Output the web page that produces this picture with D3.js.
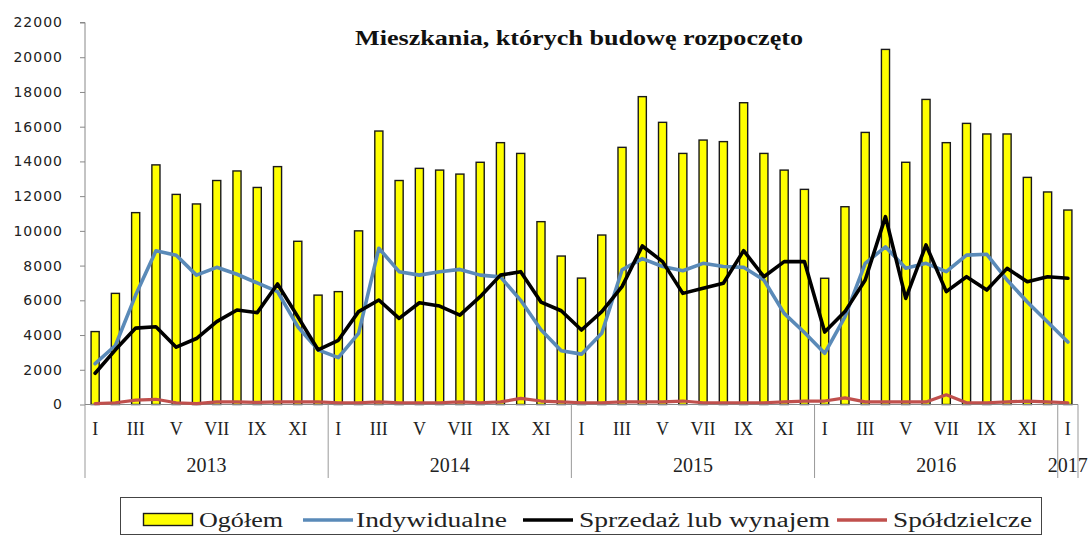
<!DOCTYPE html>
<html>
<head>
<meta charset="utf-8">
<script src="https://cdn.jsdelivr.net/npm/d3@7"></script>
<style>
  html, body { margin: 0; padding: 0; background: #fff; }
  svg { display: block; }
</style>
</head>
<body>
<svg id="chart" width="1091" height="537"></svg>
<script>
// ---- data ----
const romanMonths = ["I","II","III","IV","V","VI","VII","VIII","IX","X","XI","XII"];
const yearLabels = ["2013","2014","2015","2016","2017"];
const monthsPerYear = [12, 12, 12, 12, 1];
const yTicks = [0,2000,4000,6000,8000,10000,12000,14000,16000,18000,20000,22000];

const ogolem = [
  4200, 6400, 11050, 13800, 12100, 11550, 12900, 13450, 12500, 13700, 9400, 6300,
  6500, 10000, 15750, 12900, 13600, 13500, 13270, 13950, 15080, 14460, 10530, 8550,
  7280, 9760, 14810, 17730, 16250, 14460, 15230, 15140, 17380, 14460, 13500, 12390,
  7270, 11390, 15670, 20450, 13950, 17570, 15080, 16190, 15580, 15580, 13080, 12240,
  11200
];
const indywidualne = [
  2350, 3400, 6300, 8850, 8600, 7450, 7900, 7500, 7000, 6500, 4480, 3150,
  2700, 4100, 9000, 7650, 7450, 7650, 7780, 7450, 7350, 6000, 4300, 3100,
  2900, 4100, 7750, 8400, 7950, 7700, 8130, 7950, 7900, 7170, 5250, 4150,
  2950, 5050, 8130, 9080, 7850, 8130, 7650, 8600, 8650, 7170, 5900, 4750,
  3600
];
const sprzedaz = [
  1800, 3150, 4400, 4480, 3300, 3800, 4770, 5440, 5290, 6940, 5060, 3150,
  3700, 5350, 6020, 4960, 5860, 5670, 5150, 6210, 7450, 7650, 5900, 5400,
  4290, 5350, 6790, 9130, 8230, 6400, 6690, 6980, 8860, 7360, 8230, 8230,
  4170, 5350, 7170, 10820, 6110, 9190, 6500, 7360, 6590, 7840, 7070, 7360,
  7270
];
const spoldzielcze = [
  50, 100, 250, 300, 100, 50, 150, 150, 120, 150, 150, 150,
  100, 100, 150, 100, 100, 100, 150, 100, 150, 350, 200, 150,
  100, 100, 150, 150, 150, 200, 100, 100, 100, 100, 150, 200,
  200, 380, 150, 150, 150, 150, 560, 100, 100, 150, 200, 150,
  100
];
const seriesNames = ["Ogółem", "Indywidualne", "Sprzedaż lub wynajem", "Spółdzielcze"];
const titleText = "Mieszkania, których budowę rozpoczęto";

// ---- layout ----
const svg = d3.select("#chart");
const plotLeft = 85, plotRight = 1078, plotTop = 22.5, plotBottom = 404.5;
const n = ogolem.length;
const idx = d3.range(n);

// month label for each category
const catMonth = [];
monthsPerYear.forEach(m => { for (let k = 0; k < m; k++) catMonth.push(k); });

const x = d3.scaleBand().domain(idx).range([plotLeft, plotRight]).paddingInner(0.6).paddingOuter(0.3);
const y = d3.scaleLinear().domain([0, 22000]).range([plotBottom, plotTop]);
const cx = i => x(i) + x.bandwidth() / 2;

// title
svg.append("text")
  .attr("x", 355).attr("y", 45)
  .attr("font-family", "Liberation Serif, serif")
  .attr("font-weight", "bold")
  .attr("font-size", 20)
  .attr("textLength", 448).attr("lengthAdjust", "spacingAndGlyphs")
  .attr("fill", "#111")
  .text(titleText);

// y axis
const yAxis = d3.axisLeft(y).tickValues(yTicks).tickSize(5).tickPadding(17).tickFormat(d3.format("d"));
const gy = svg.append("g").attr("transform", `translate(${plotLeft},0)`).call(yAxis);
gy.select(".domain").attr("stroke", "#888").attr("d", `M-5,${plotTop}H0V${plotBottom}`);
gy.selectAll(".tick line").attr("stroke", "#888");
gy.selectAll(".tick text")
  .attr("font-family", "DejaVu Sans, sans-serif")
  .attr("font-size", 14)
  .attr("letter-spacing", "1px")
  .attr("fill", "#222");

// bars
svg.append("g").selectAll("rect").data(idx).join("rect")
  .attr("x", i => x(i))
  .attr("width", x.bandwidth())
  .attr("y", i => y(ogolem[i]))
  .attr("height", i => y(0) - y(ogolem[i]))
  .attr("fill", "#ffff00")
  .attr("stroke", "#1a1a1a")
  .attr("stroke-width", 1.4);

// x axis line
svg.append("line").attr("x1", plotLeft).attr("x2", plotRight).attr("y1", plotBottom).attr("y2", plotBottom)
  .attr("stroke", "#888").attr("stroke-width", 1);

// lines
const line = arr => d3.line().x(i => cx(i)).y(i => y(arr[i]))(idx);
const lineSpecs = [
  {arr: spoldzielcze, color: "#c0504d", w: 3.2},
  {arr: indywidualne, color: "#5a8ab8", w: 3.6},
  {arr: sprzedaz, color: "#000000", w: 3.6}
];
lineSpecs.forEach(s => {
  svg.append("path").attr("d", line(s.arr))
    .attr("fill", "none").attr("stroke", s.color).attr("stroke-width", s.w)
    .attr("stroke-linejoin", "round").attr("stroke-linecap", "round");
});

// month labels (every other)
svg.append("g").selectAll("text").data(idx.filter(i => catMonth[i] % 2 === 0)).join("text")
  .attr("x", i => cx(i)).attr("y", 435)
  .attr("text-anchor", "middle")
  .attr("font-family", "Liberation Serif, serif")
  .attr("font-size", 18)
  .attr("fill", "#222")
  .text(i => romanMonths[catMonth[i]]);

// year separators and labels
let start = 0;
const seps = [0];
yearLabels.forEach((yl, k) => {
  const end = start + monthsPerYear[k];
  const x0 = x.step() * start + plotLeft;
  const x1 = x.step() * end + plotLeft;
  seps.push(end);
  svg.append("text")
    .attr("x", (x0 + x1) / 2).attr("y", 472)
    .attr("text-anchor", "middle")
    .attr("font-family", "Liberation Serif, serif")
    .attr("font-size", 20)
    .attr("fill", "#222")
    .text(yl);
  start = end;
});
svg.append("g").selectAll("line").data(seps).join("line")
  .attr("x1", s => plotLeft + x.step() * s).attr("x2", s => plotLeft + x.step() * s)
  .attr("y1", plotBottom).attr("y2", 478)
  .attr("stroke", "#999").attr("stroke-width", 1);

// legend
const lg = svg.append("g");
lg.append("rect").attr("x", 120.5).attr("y", 497.5).attr("width", 921).attr("height", 37)
  .attr("fill", "#fff").attr("stroke", "#444").attr("stroke-width", 1);
lg.append("rect").attr("x", 143.5).attr("y", 513.5).attr("width", 49).attr("height", 12)
  .attr("fill", "#ffff00").attr("stroke", "#1a1a1a").attr("stroke-width", 1.4);
const legendItems = [
  {name: seriesNames[0], tx: 199, tw: 84},
  {name: seriesNames[1], lx: 303, color: "#5a8ab8", tx: 356, tw: 151},
  {name: seriesNames[2], lx: 523, color: "#000000", tx: 579, tw: 251},
  {name: seriesNames[3], lx: 837, color: "#c0504d", tx: 893, tw: 139}
];
legendItems.forEach(it => {
  if (it.lx !== undefined) {
    lg.append("line").attr("x1", it.lx).attr("x2", it.lx + 50).attr("y1", 520).attr("y2", 520)
      .attr("stroke", it.color).attr("stroke-width", 3.6);
  }
  lg.append("text").attr("x", it.tx).attr("y", 527)
    .attr("font-family", "Liberation Serif, serif")
    .attr("font-size", 20)
    .attr("textLength", it.tw).attr("lengthAdjust", "spacingAndGlyphs")
    .attr("fill", "#222")
    .text(it.name);
});
</script>
</body>
</html>
